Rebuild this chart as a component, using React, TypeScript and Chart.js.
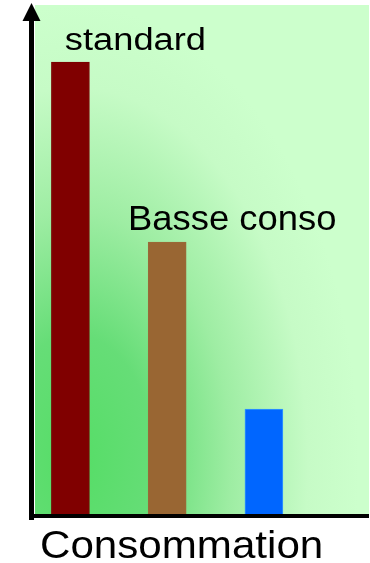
import React, { useEffect, useRef } from "react";
import { Chart, registerables } from "chart.js";

Chart.register(...registerables);

const categories = ["standard", "Basse conso", ""];
const values = [88.8, 53.4, 20.6];
const barColors = ["#800000", "#996633", "#0066ff"];
const barBorders = ["#7a0000", "#9a6a3a", "#3399ff"];
const axisTitle = "Consommation";

const overlay = {
  id: "overlay",
  beforeDatasetsDraw(chart: any) {
    const { ctx, chartArea: ca } = chart;
    const w = ca.right - ca.left;
    const h = ca.bottom - ca.top;
    const cx = ca.left + 0.12 * w;
    const cy = ca.top + 0.9 * h;
    const rx = 0.85 * w;
    const ry = 0.9 * h;
    ctx.save();
    ctx.beginPath();
    ctx.rect(ca.left, ca.top, w, h);
    ctx.clip();
    ctx.translate(cx, cy);
    ctx.scale(1, ry / rx);
    const g = ctx.createRadialGradient(0, 0, 0, 0, 0, rx);
    g.addColorStop(0, "#55dd66");
    g.addColorStop(0.28, "#66dd77");
    g.addColorStop(0.55, "#9eeda3");
    g.addColorStop(0.82, "#c6fbc6");
    g.addColorStop(1, "#ccffcc");
    ctx.fillStyle = g;
    ctx.fillRect(-2000, -4000, 4000, 8000);
    ctx.restore();
  },
  afterDatasetsDraw(chart: any) {
    const { ctx, chartArea: ca } = chart;
    const meta = chart.getDatasetMeta(0);
    ctx.save();
    ctx.fillStyle = "#000";
    const axX = ca.left - 6;
    ctx.fillRect(axX, ca.top + 14, 5, ca.bottom - ca.top - 8);
    ctx.fillRect(axX, ca.bottom, ca.right - axX, 4);
    ctx.beginPath();
    ctx.moveTo(axX + 2.5, ca.top - 2);
    ctx.lineTo(axX - 6.5, ca.top + 16);
    ctx.lineTo(axX + 11.5, ca.top + 16);
    ctx.closePath();
    ctx.fill();

    const drawStretched = (text: string, x: number, y: number, size: number, sx: number, align: string) => {
      ctx.save();
      ctx.font = `${size}px "Liberation Sans", Arial, sans-serif`;
      ctx.textBaseline = "alphabetic";
      const tw = ctx.measureText(text).width * sx;
      const left = align === "center" ? x - tw / 2 : x;
      ctx.translate(left, y);
      ctx.scale(sx, 1);
      ctx.textAlign = "left";
      ctx.fillStyle = "#000";
      ctx.fillText(text, 0, 0);
      ctx.restore();
    };

    const labelStyles = [
      { size: 31, sx: 1.17 },
      { size: 35, sx: 1.04 },
      { size: 35, sx: 1.04 },
    ];
    meta.data.forEach((bar: any, i: number) => {
      const label = categories[i];
      if (!label) return;
      const st = labelStyles[i];
      drawStretched(label, bar.x + 65, bar.y - 12, st.size, st.sx, "center");
    });

    drawStretched(axisTitle, ca.left + 5, ca.bottom + 44, 39, 1.08, "left");
    ctx.restore();
  },
};

export default function App() {
  const ref = useRef<HTMLCanvasElement>(null);
  useEffect(() => {
    document.body.style.margin = "0";
    const chart = new Chart(ref.current!, {
      type: "bar",
      data: {
        datasets: [
          {
            data: values.map((v, i) => ({ x: i, y: v })),
            backgroundColor: barColors,
            borderColor: barBorders,
            borderWidth: 1,
            barThickness: 38,
          },
        ],
      },
      options: {
        responsive: false,
        animation: false,
        layout: { padding: { left: 35, top: 5, right: 1, bottom: 49 } },
        plugins: { legend: { display: false }, tooltip: { enabled: false } },
        scales: {
          x: { type: "linear", display: false, offset: false, min: -0.366, max: 3.086 },
          y: { display: false, min: 0, max: 100 },
        },
      },
      plugins: [overlay],
    });
    return () => chart.destroy();
  }, []);
  return (
    <div style={{ position: "absolute", left: 0, top: 0, width: 370, height: 563, background: "#fff" }}>
      <canvas ref={ref} width={370} height={563} />
    </div>
  );
}
